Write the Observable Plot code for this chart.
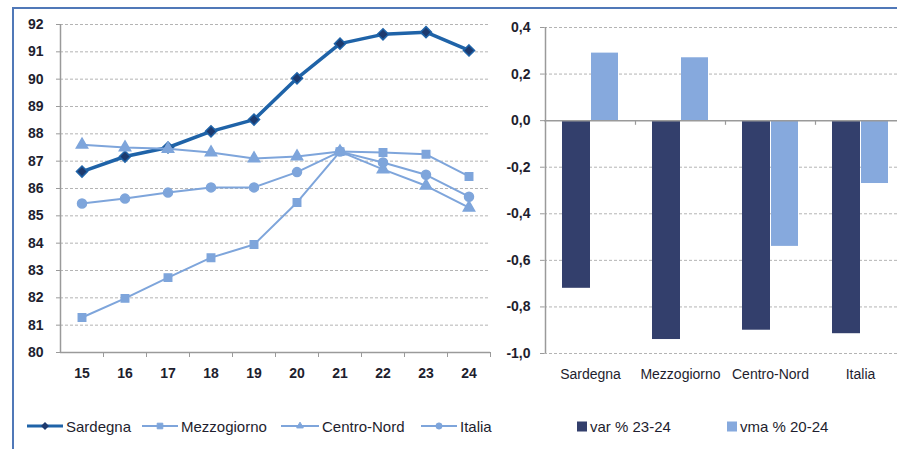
<!DOCTYPE html>
<html>
<head>
<meta charset="utf-8">
<script src="https://cdn.jsdelivr.net/npm/d3@7"></script>
<script src="https://cdn.jsdelivr.net/npm/@observablehq/plot@0.6"></script>
<style>
  html, body { margin: 0; padding: 0; background: #fff; }
  #wrap { position: relative; width: 897px; height: 449px; overflow: hidden; background: #fff;
          font-family: "Liberation Sans", Arial, sans-serif; }
  #frame { position: absolute; left: 12px; top: 7px; width: 900px; height: 460px;
           border-left: 2px solid #5078b8; border-top: 2px solid #5078b8; box-sizing: border-box; }
  .chart { position: absolute; top: 0; }
  .chart svg { overflow: visible; max-width: none !important; }
  #legend { position: absolute; left: 0; top: 414px; width: 897px; height: 24px; }
  .li { position: absolute; top: 0; height: 24px; display: flex; align-items: center;
        font-size: 15px; color: #1e1e2e; white-space: nowrap; }
  .li svg { display: block; }
</style>
</head>
<body>
<div id="wrap">
  <div id="frame"></div>
  <div id="left" class="chart" style="left:0px;width:495px"></div>
  <div id="right" class="chart" style="left:490px;width:420px"></div>
  <div id="legend"></div>
</div>
<script>
// ---- Data (left: index values) ----
const years = [15, 16, 17, 18, 19, 20, 21, 22, 23, 24];
const sardegna    = [86.62, 87.17, 87.50, 88.09, 88.52, 90.03, 91.30, 91.64, 91.72, 91.05];
const mezzogiorno = [81.28, 81.98, 82.74, 83.47, 83.95, 85.49, 87.35, 87.32, 87.25, 86.44];
const centroNord  = [87.60, 87.50, 87.45, 87.32, 87.10, 87.17, 87.35, 86.70, 86.10, 85.30];
const italia      = [85.45, 85.63, 85.85, 86.04, 86.04, 86.60, 87.35, 86.95, 86.50, 85.70];
const leftTicks = [80, 81, 82, 83, 84, 85, 86, 87, 88, 89, 90, 91, 92];

// ---- Data (right: variations) ----
const regions = ["Sardegna", "Mezzogiorno", "Centro-Nord", "Italia"];
const var2324 = [-0.72, -0.94, -0.90, -0.915];
const vma2024 = [0.29, 0.27, -0.54, -0.27];
const rightTicks = [-1.0, -0.8, -0.6, -0.4, -0.2, 0.0, 0.2, 0.4];

const seriesNames = ["Sardegna", "Mezzogiorno", "Centro-Nord", "Italia"];
const barNames = ["var % 23-24", "vma % 20-24"];

// ---- Styles ----
const cDark = "#1f63a8", cDiamond = "#1d3a6e", cLight = "#7ea5db";
const cBarDark = "#333f6c", cBarLight = "#86a9dd";
const textColor = "#1e1e2e", gridColor = "#b4b4b4", axisColor = "#9a9a9a";
const font = "'Liberation Sans', Arial, sans-serif";

const rows = (vals) => years.map((y, i) => ({year: y, value: vals[i]}));
const sar = rows(sardegna), mez = rows(mezzogiorno), cen = rows(centroNord), ita = rows(italia);
const boundaries = years.map(y => y + 0.5);

const left = Plot.plot({
  width: 495, height: 400,
  marginLeft: 60, marginRight: 5, marginTop: 24, marginBottom: 48,
  style: {background: "transparent", fontFamily: font, fontSize: "14px", color: textColor},
  x: {type: "linear", domain: [14.5, 24.5]},
  y: {domain: [80, 92]},
  marks: [
    Plot.gridY(leftTicks.slice(1), {stroke: gridColor, strokeOpacity: 1, strokeDasharray: "3,2"}),
    Plot.ruleY([80], {stroke: axisColor, strokeWidth: 1.5}),
    Plot.ruleX([14.5], {stroke: axisColor, strokeWidth: 1.5}),
    Plot.axisY(leftTicks, {tickSize: 4, tickPadding: 13, stroke: axisColor, fill: textColor, label: null, fontSize: 14, fontWeight: "bold"}),
    Plot.axisX(boundaries, {tickSize: 5, tickFormat: () => "", stroke: axisColor, label: null}),
    Plot.axisX(years, {tickSize: 0, tickPadding: 16, fill: textColor, label: null, fontSize: 14, fontWeight: "bold"}),
    Plot.line(sar, {x: "year", y: "value", stroke: cDark, strokeWidth: 3.5}),
    Plot.dot(sar, {x: "year", y: "value", symbol: d3.symbolDiamond2, r: 5, fill: cDiamond, stroke: cDark, strokeWidth: 1.5}),
    Plot.line(mez, {x: "year", y: "value", stroke: cLight, strokeWidth: 2}),
    Plot.dot(mez, {x: "year", y: "value", symbol: "square", r: 4.2, fill: cLight, stroke: cLight}),
    Plot.line(cen, {x: "year", y: "value", stroke: cLight, strokeWidth: 2}),
    Plot.dot(cen, {x: "year", y: "value", symbol: "triangle", r: 4.2, fill: cLight, stroke: cLight}),
    Plot.line(ita, {x: "year", y: "value", stroke: cLight, strokeWidth: 2}),
    Plot.dot(ita, {x: "year", y: "value", symbol: "circle", r: 4.5, fill: cLight, stroke: cLight})
  ]
});
document.getElementById("left").appendChild(left);

const bars = regions.map((r, i) => ({region: r, v: var2324[i], m: vma2024[i]}));
const fmt = d => d.toFixed(1).replace(".", ",");

const right = Plot.plot({
  width: 420, height: 400,
  marginLeft: 54, marginRight: 4, marginTop: 27, marginBottom: 47,
  style: {background: "transparent", fontFamily: font, fontSize: "14px", color: textColor},
  x: {type: "band", domain: regions, padding: 0},
  y: {domain: [-1, 0.4]},
  marks: [
    Plot.gridY(rightTicks.filter(t => t !== 0 && t !== -1), {stroke: gridColor, strokeOpacity: 1, strokeDasharray: "3,2"}),
    Plot.ruleY([-1], {stroke: gridColor, strokeDasharray: "3,2"}),
    Plot.barY(bars, {x: "region", y: "v", fill: cBarDark, insetLeft: 17, insetRight: 45}),
    Plot.barY(bars, {x: "region", y: "m", fill: cBarLight, insetLeft: 46, insetRight: 17}),
    Plot.ruleY([0], {stroke: axisColor, strokeWidth: 1.5}),
    Plot.ruleX(regions.slice(0, 3), {x: d => d, y1: 0, y2: -0.02, dx: 45, stroke: axisColor, strokeWidth: 1.2}),
    Plot.ruleX([regions[0]], {x: d => d, y1: -1, y2: 0.4, dx: -45, stroke: axisColor, strokeWidth: 1.5}),
    Plot.axisY(rightTicks, {tickSize: 4, tickPadding: 10, stroke: axisColor, fill: textColor, tickFormat: fmt, label: null, fontSize: 14, fontWeight: "bold"}),
    Plot.axisX(regions, {tickSize: 0, tickPadding: 16, fill: textColor, label: null, fontSize: 14})
  ]
});
document.getElementById("right").appendChild(right);

// ---- Legend ----
const legend = document.getElementById("legend");
const legendItems = [
  {name: seriesNames[0], left: 27, kind: "line", color: cDark, sym: "diamond", w: 36},
  {name: seriesNames[1], left: 142, kind: "line", color: cLight, sym: "square", w: 36},
  {name: seriesNames[2], left: 281, kind: "line", color: cLight, sym: "triangle", w: 38},
  {name: seriesNames[3], left: 421, kind: "line", color: cLight, sym: "circle", w: 36},
  {name: barNames[0], left: 577, kind: "box", color: cBarDark},
  {name: barNames[1], left: 727, kind: "box", color: cBarLight}
];
const NS = "http://www.w3.org/2000/svg";
const symTypes = {diamond: d3.symbolDiamond2, square: d3.symbolSquare2, triangle: d3.symbolTriangle2, circle: d3.symbolCircle};
const symSizes = {diamond: 40, square: 40, triangle: 32, circle: 30};
for (const it of legendItems) {
  const div = document.createElement("div");
  div.className = "li";
  div.style.left = it.left + "px";
  const s = document.createElementNS(NS, "svg");
  if (it.kind === "line") {
    s.setAttribute("width", it.w + 3); s.setAttribute("height", 14);
    const l = document.createElementNS(NS, "line");
    l.setAttribute("x1", 0); l.setAttribute("x2", it.w); l.setAttribute("y1", 7); l.setAttribute("y2", 7);
    l.setAttribute("stroke", it.color); l.setAttribute("stroke-width", it.sym === "diamond" ? 3 : 2);
    s.appendChild(l);
    const sym = d3.symbol().type(symTypes[it.sym]).size(symSizes[it.sym]);
    const p = document.createElementNS(NS, "path");
    p.setAttribute("d", sym());
    p.setAttribute("transform", `translate(${it.w / 2},7)`);
    p.setAttribute("fill", it.sym === "diamond" ? cDiamond : it.color);
    if (it.sym !== "diamond") { p.setAttribute("stroke", it.color); p.setAttribute("stroke-width", 1); }
    s.appendChild(p);
  } else {
    s.setAttribute("width", 13); s.setAttribute("height", 14);
    const r = document.createElementNS(NS, "rect");
    r.setAttribute("x", 0); r.setAttribute("y", 2.5); r.setAttribute("width", 10); r.setAttribute("height", 10);
    r.setAttribute("fill", it.color);
    s.appendChild(r);
  }
  div.appendChild(s);
  const t = document.createElement("span");
  t.textContent = it.name;
  div.appendChild(t);
  legend.appendChild(div);
}
</script>
</body>
</html>
